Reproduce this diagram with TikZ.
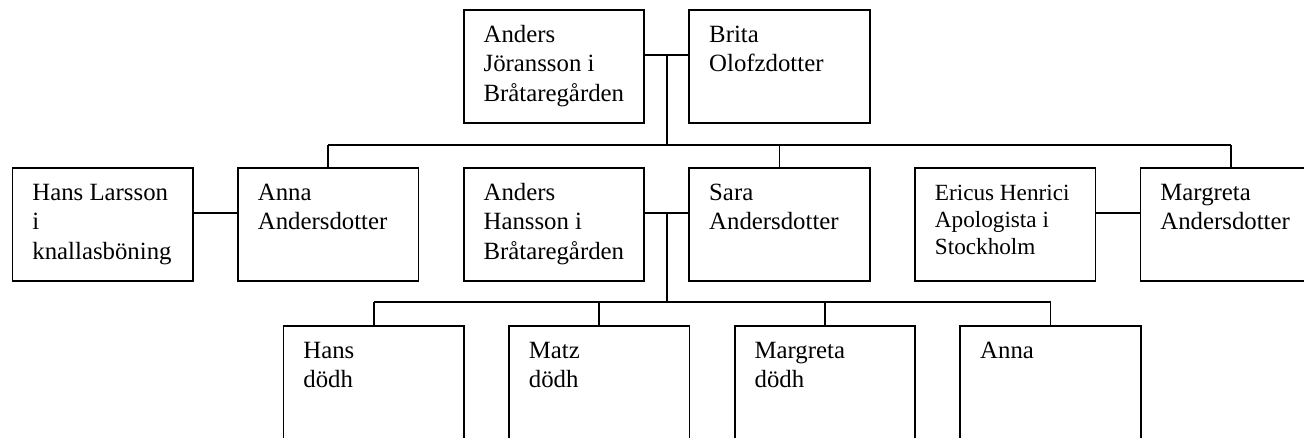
\documentclass[tikz,border=0pt]{standalone}
\usepackage{fontspec}
\setmainfont{Liberation Serif}
\newcommand{\who}[1]{\parbox[c][112.7pt][t]{140.6pt}{\raggedright\rule{0pt}{32.4pt}#1}}
\tikzset{
    person/.style={draw, line width=1.8pt, anchor=north west, inner xsep=20pt, inner ysep=0pt,
        minimum width=180.6pt, minimum height=112.7pt, font=\fontsize{24.8}{29.2}\selectfont},
    link/.style={line width=1.8pt}
}
\begin{document}
\begin{tikzpicture}[x=1pt, y=-1pt]
    \useasboundingbox (0,0) rectangle (1304,437);
    % parents
    \node[person] (anders) at (462.7, 9.3) {\who{Anders\\Jöransson i\\Bråtaregården}};
    \node[person] (brita) at (688.3, 9.3) {\who{Brita\\Olofzdotter}};
    % children and spouses
    \node[person] (hansl) at (11.5, 167.3) {\who{Hans Larsson\\i\\knallasböning}};
    \node[person] (anna) at (237, 167.3) {\who{Anna\\Andersdotter}};
    \node[person] (andersh) at (462.7, 167.3) {\who{Anders\\Hansson i\\Bråtaregården}};
    \node[person] (sara) at (688.3, 167.3) {\who{Sara\\Andersdotter}};
    \node[person, font=\fontsize{23.2}{26.8}\selectfont] (ericus) at (914, 167.3) {\who{Ericus Henrici\\Apologista i\\Stockholm}};
    \node[person] (margreta) at (1139.5, 167.3) {\who{Margreta\\Andersdotter}};
    % grandchildren
    \node[person] (hans) at (282.5, 325) {\who{Hans\\dödh}};
    \node[person] (matz) at (508, 325) {\who{Matz\\dödh}};
    \node[person] (margretab) at (733.7, 325) {\who{Margreta\\dödh}};
    \node[person] (annab) at (959.3, 325) {\who{Anna}};

    \coordinate (bar1) at (0, 145);
    \coordinate (bar2) at (0, 302.3);

    \draw[link] ([yshift=11.3pt]anders.east) -- coordinate (m1) ([yshift=11.3pt]brita.west);
    \draw[link] (m1) -- (m1 |- bar1);
    \draw[link] (anna.north |- bar1) -- (margreta.north |- bar1);
    \foreach \n in {anna, sara, margreta}
        \draw[link] (\n.north) -- (\n.north |- bar1);

    \draw[link] ([yshift=11.3pt]hansl.east) -- ([yshift=11.3pt]anna.west);
    \draw[link] ([yshift=11.3pt]ericus.east) -- ([yshift=11.3pt]margreta.west);
    \draw[link] ([yshift=11.3pt]andersh.east) -- coordinate (m2) ([yshift=11.3pt]sara.west);
    \draw[link] (m2) -- (m2 |- bar2);
    \draw[link] (hans.north |- bar2) -- (annab.north |- bar2);
    \foreach \n in {hans, matz, margretab, annab}
        \draw[link] (\n.north) -- (\n.north |- bar2);
\end{tikzpicture}
\end{document}
